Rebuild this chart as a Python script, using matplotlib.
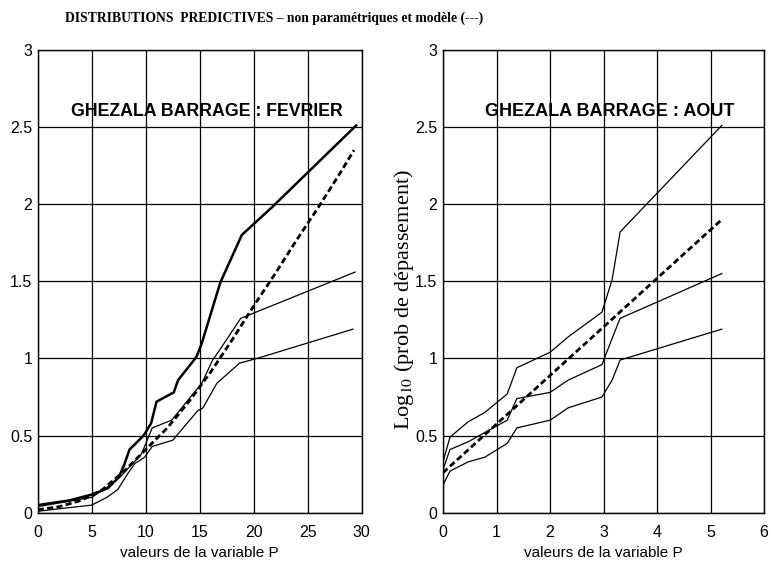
import matplotlib
matplotlib.use('Agg')
import matplotlib.pyplot as plt

plt.rcParams['font.family'] = ['Liberation Sans', 'DejaVu Sans']
plt.rcParams['mathtext.fontset'] = 'stix'

# Fevrier (gauche)
fev_haut_x = [0, 2.9, 5.1, 6.5, 7.5, 8.0, 8.5, 9.8, 10.5, 11.0, 12.6, 13.0, 14.7, 15.2, 16.9, 18.9, 21.7, 29.5]
fev_haut_y = [0.05, 0.08, 0.12, 0.16, 0.23, 0.31, 0.41, 0.50, 0.58, 0.72, 0.78, 0.86, 1.01, 1.10, 1.49, 1.80, 1.98, 2.51]
fev_mil_x = [0, 2.5, 5.0, 6.5, 7.6, 9.6, 10.6, 12.4, 13.1, 15.2, 16.2, 16.9, 18.8, 29.4]
fev_mil_y = [0.04, 0.07, 0.10, 0.17, 0.23, 0.38, 0.55, 0.60, 0.66, 0.84, 0.99, 1.06, 1.26, 1.56]
fev_bas_x = [0, 5.0, 6.4, 7.4, 8.3, 9.0, 9.9, 10.6, 12.5, 14.8, 15.3, 16.6, 18.7, 20.3, 29.2]
fev_bas_y = [0.01, 0.05, 0.10, 0.15, 0.25, 0.32, 0.36, 0.43, 0.47, 0.66, 0.68, 0.84, 0.97, 1.00, 1.19]
fev_mod_x = [0, 2, 4, 6, 8, 10, 12, 14, 16, 18, 20, 22, 24, 26, 28, 29.3]
fev_mod_y = [0.02, 0.04, 0.08, 0.15, 0.27, 0.41, 0.55, 0.72, 0.91, 1.12, 1.34, 1.55, 1.77, 1.98, 2.20, 2.35]

# Aout (droite)
aout_x = [0, 0.13, 0.47, 0.78, 1.2, 1.38, 2.0, 2.34, 2.97, 3.16, 3.31, 5.21]
aout_haut_y = [0.33, 0.49, 0.59, 0.65, 0.77, 0.94, 1.04, 1.14, 1.30, 1.51, 1.82, 2.51]
aout_mil_y = [0.28, 0.41, 0.46, 0.52, 0.60, 0.74, 0.78, 0.86, 0.96, 1.13, 1.26, 1.55]
aout_bas_y = [0.18, 0.27, 0.33, 0.36, 0.45, 0.55, 0.60, 0.68, 0.75, 0.86, 0.99, 1.19]
aout_mod_x = [0, 5.21]
aout_mod_y = [0.26, 1.90]

yticks = [0, 0.5, 1, 1.5, 2, 2.5, 3]
ylabels = ['0', '0.5', '1', '1.5', '2', '2.5', '3']

fig = plt.figure(figsize=(7.71, 5.66), dpi=100)
ax1 = fig.add_axes([0.049, 0.094, 0.420, 0.818])
ax2 = fig.add_axes([0.5746, 0.094, 0.4164, 0.818])

dash = (0, (2.2, 1.2))
ax1.plot(fev_haut_x, fev_haut_y, color='black', lw=1.8)
ax1.plot(fev_mil_x, fev_mil_y, color='black', lw=0.9)
ax1.plot(fev_bas_x, fev_bas_y, color='black', lw=0.9)
ax1.plot(fev_mod_x, fev_mod_y, color='black', lw=2.0, linestyle=dash)
ax1.set_xlim(0, 30)
ax1.set_xticks(range(0, 31, 5))
ax1.text(3.1, 2.6, 'GHEZALA BARRAGE : FEVRIER', fontsize=12.8, fontweight='bold',
         va='center', ha='left')

ax2.plot(aout_x, aout_haut_y, color='black', lw=0.9)
ax2.plot(aout_x, aout_mil_y, color='black', lw=0.9)
ax2.plot(aout_x, aout_bas_y, color='black', lw=0.9)
ax2.plot(aout_mod_x, aout_mod_y, color='black', lw=2.0, linestyle=dash)
ax2.set_xlim(0, 6)
ax2.set_xticks(range(0, 7))
ax2.text(0.79, 2.6, 'GHEZALA BARRAGE : AOUT', fontsize=13, fontweight='bold',
         va='center', ha='left')
ax2.set_ylabel('Log$_{10}$ (prob de dépassement)', fontsize=16, family='Liberation Serif')
ax2.yaxis.set_label_coords(-0.085, 0.46)

for ax in (ax1, ax2):
    ax.set_ylim(0, 3)
    ax.set_yticks(yticks)
    ax.set_yticklabels(ylabels)
    ax.grid(True, color='black', lw=0.9)
    ax.tick_params(length=0, labelsize=11.5, pad=4)
    ax.tick_params(axis='x', pad=9)
    ax.set_xlabel('valeurs de la variable P', fontsize=11, labelpad=4)
    for s in ax.spines.values():
        s.set_linewidth(1.0)

fig.text(0.355, 0.968, 'DISTRIBUTIONS  PREDICTIVES – non paramétriques et modèle (---)',
         family='Liberation Serif', fontweight='bold', fontsize=9.8, ha='center', va='center')

fig.savefig('out.png', dpi=100)
